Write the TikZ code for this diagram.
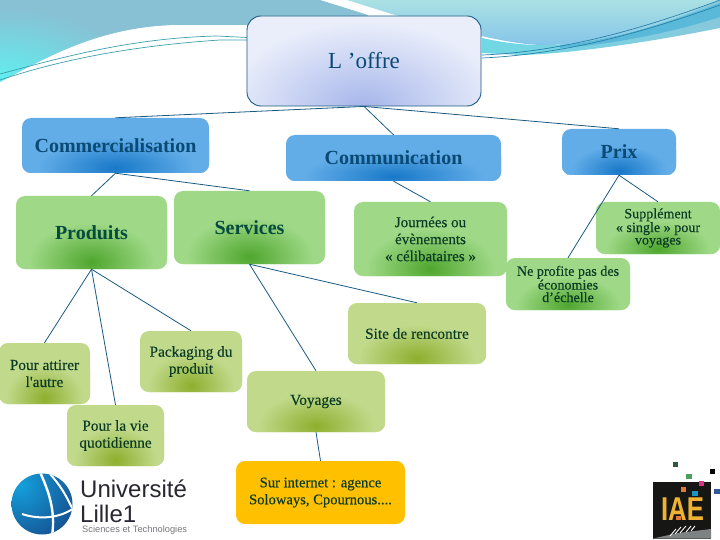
\documentclass[tikz,border=0pt]{standalone}
\usepackage{fontspec}
\usepackage{graphicx}
\setmainfont{Liberation Serif}
\newfontfamily\logosans{Liberation Sans}
\newfontfamily\medserif[FakeBold=0.25]{Liberation Serif}
\usetikzlibrary{calc}
\definecolor{linec}{HTML}{1A5A80}
\definecolor{bluetx}{HTML}{0A4A74}
\definecolor{greentx}{HTML}{064A40}
\definecolor{darktx}{HTML}{0A3A24}
\definecolor{B62ADE8}{HTML}{62ADE8}
\definecolor{B1878C8}{HTML}{1878C8}
\definecolor{G9FD987}{HTML}{9FD987}
\definecolor{G4FA62E}{HTML}{4FA62E}
\definecolor{OC0D98A}{HTML}{C0D98A}
\definecolor{O8DAF2E}{HTML}{8DAF2E}
\definecolor{LAV}{HTML}{EAEEFB}
\definecolor{LAVD}{HTML}{A6B6EA}
\definecolor{skyA}{HTML}{88C0D4}
\definecolor{skyB}{HTML}{60F0F0}
\definecolor{skyC}{HTML}{AAE1E4}
\definecolor{skyD}{HTML}{84C4E8}
\definecolor{bandA}{HTML}{70D8E4}
\definecolor{bandB}{HTML}{5AB8D8}
\definecolor{bandC}{HTML}{88C8DC}
\definecolor{thinA}{HTML}{2882AA}
\definecolor{thinB}{HTML}{3CA0AF}
\definecolor{ballA}{HTML}{14A0DC}
\definecolor{ballB}{HTML}{164687}
\definecolor{logotx}{HTML}{282832}
\definecolor{logogr}{HTML}{78787D}
\definecolor{iaebk}{HTML}{161614}
\definecolor{iaegr}{HTML}{7D8282}
\definecolor{iaeor}{HTML}{F0B232}
\definecolor{sqdg}{HTML}{2D5A3C}
\definecolor{sqg}{HTML}{4BA05F}
\definecolor{sqp}{HTML}{DC328C}
\definecolor{sqn}{HTML}{325A96}
\definecolor{sqo}{HTML}{E1783C}
\definecolor{sqc}{HTML}{1996C3}
\definecolor{amber}{HTML}{FFC000}
\pgfdeclareradialshading{glowblue}{\pgfpoint{0bp}{0bp}}{color(0bp)=(B1878C8); color(15bp)=(B62ADE8); color(50bp)=(B62ADE8)}
\pgfdeclareradialshading{glowgreen}{\pgfpoint{0bp}{0bp}}{color(0bp)=(G4FA62E); color(15bp)=(G9FD987); color(50bp)=(G9FD987)}
\pgfdeclareradialshading{glowolive}{\pgfpoint{0bp}{0bp}}{color(0bp)=(O8DAF2E); color(15bp)=(OC0D98A); color(50bp)=(OC0D98A)}
\pgfdeclareradialshading{glowlav}{\pgfpoint{0bp}{0bp}}{color(0bp)=(LAVD); color(15bp)=(LAV); color(50bp)=(LAV)}
\pgfdeclareradialshading{glowsky}{\pgfpoint{0bp}{0bp}}{color(0bp)=(skyB); color(15bp)=(skyA); color(50bp)=(skyA)}
\tikzset{
  x=1pt,y=-1pt,
  glowbox/.style n args={2}{rounded corners=9pt,inner sep=0pt,align=center,fill=#1,
    path picture={
      \shade[shading=#2]
        let \p1=($(path picture bounding box.east)-(path picture bounding box.west)$),
            \p2=($(path picture bounding box.north)-(path picture bounding box.south)$)
        in (path picture bounding box.south) ellipse [x radius={0.7*\x1},y radius={0.8*\y2}];
    }},
  bluebox/.style={glowbox={B62ADE8}{glowblue},text=bluetx,font=\fontsize{20}{22}\selectfont\bfseries},
  greenbox/.style={glowbox={G9FD987}{glowgreen},text=greentx,font=\fontsize{20}{22}\selectfont\bfseries},
  smallgreen/.style={glowbox={G9FD987}{glowgreen},text=darktx,font=\medserif\fontsize{15}{17}\selectfont},
  tightgreen/.style={glowbox={G9FD987}{glowgreen},text=darktx,font=\medserif\fontsize{14.1}{12.5}\selectfont},
  olivebox/.style={glowbox={OC0D98A}{glowolive},text=darktx,font=\medserif\fontsize{15.3}{17}\selectfont},
  linkline/.style={draw=linec,line width=0.8pt},
  thinband/.style={line width=0.7pt},
}
\begin{document}
\begin{tikzpicture}
\useasboundingbox (0,0) rectangle (720,540);
% background swooshes
\fill[white] (0,0) rectangle (720,540);
\begin{scope}
\clip (0,0) -- (320,0) -- (368,15) -- (368,25) -- (247,25) -- (170,25) .. controls (100,28) and (50,55) .. (0,82) -- cycle;
\fill[skyA] (0,0) rectangle (368,82);
\shade[shading=glowsky] (0,82) ellipse [x radius=230pt,y radius=125pt];
\end{scope}
\shade[top color=skyC,bottom color=skyD]
  (347,0) -- (720,0) .. controls (660,25) and (600,46) .. (540,45) .. controls (520,44) and (500,42) .. (395,15) -- cycle;
\fill[white] (482,37) -- (503,42) -- (482,39) -- cycle;
\shade[left color=bandA,right color=bandC]
  (482,38) .. controls (500,42) and (520,45) .. (540,45) .. controls (600,46) and (660,25) .. (720,0) -- (720,28) .. controls (650,42) and (570,54) .. (520,55) -- (482,53) -- cycle;
\fill[bandB] (560,45) .. controls (620,40) and (680,18) .. (720,3) -- (720,17) .. controls (680,30) and (620,44) .. (560,48) -- cycle;
\draw[thinA,thinband] (482,55) .. controls (560,52) and (640,30) .. (720,0);
\draw[thinA,thinband] (482,58) .. controls (570,54) and (650,30) .. (720,5);
\draw[thinB,thinband] (0,74) .. controls (60,58) and (130,38) .. (217,36) -- (247,37.5);
\draw[thinB,thinband] (0,80) .. controls (60,60) and (130,46) .. (220,40) -- (247,40);
% Lille logo
\fill[white] (0,458) rectangle (200,540);
\begin{scope}
\clip (42,504) circle (30.5);
\shade[inner color=ballA,outer color=ballB] (20,485) circle (70);
\draw[white,line width=2.4pt] (40,472) .. controls (48,490) and (56,510) .. (52,536);
\draw[white,line width=2pt] (50,474) .. controls (60,485) and (66,495) .. (72,508);
\draw[white,line width=2pt] (22,514) .. controls (40,520) and (60,518) .. (74,508);
\end{scope}
\node[anchor=west,inner sep=0pt,text=logotx,font=\logosans\fontsize{24}{26}\selectfont] (univ) at (80,489) {Université};
\node[anchor=west,inner sep=0pt,text=logotx,font=\logosans\fontsize{24}{26}\selectfont] (lille) at (80,513.5) {Lille1};
\node[anchor=west,inner sep=0pt,text=logogr,font=\logosans\fontsize{9.3}{10}\selectfont] (scitech) at (82,530) {Sciences et Technologies};
% IAE logo
\fill[iaebk] (653,482) rectangle (711,538.5);
\fill[iaegr] (653,538.5) -- (678,533) -- (711,529) -- (711,538.5) -- cycle;
\draw[white,line width=0.9pt] (670,536) -- (676,529) (675,534) -- (681,527) (680,533) -- (686,526) (686,532) -- (691,526) (691,531) -- (695,526);
\fill[sqdg] (673,462) rectangle (678,466.5);
\fill[sqg] (686,474) rectangle (692,479);
\fill[black] (710,469) rectangle (715,474);
\fill[sqp] (699,481) rectangle (704,486);
\fill[sqn] (714,489) rectangle (719.5,494);
\fill[sqo] (681,487) rectangle (686,492);
\fill[sqc] (692,491) rectangle (698,496);
\node[inner sep=0pt,text=iaeor,font=\logosans\bfseries\fontsize{33}{33}\selectfont] (iae) at (682.5,509.5) {\scalebox{0.78}[1]{IAE}};
\fill[sqo] (676,516) rectangle (681,520);
% nodes
\node[rounded corners=14pt,draw=linec,line width=0.9pt,fill=LAV,inner sep=0pt,minimum width=234pt,minimum height=90pt,
  text=bluetx,font=\fontsize{23}{28}\selectfont,
  path picture={\shade[shading=glowlav] (path picture bounding box.south) ellipse [x radius=230pt,y radius=140pt];}]
  (root) at (364,61) {L ’offre};
\node[bluebox,minimum width=187pt,minimum height=55pt] (comm) at (115.5,145.5) {Commercialisation};
\node[bluebox,minimum width=215pt,minimum height=46pt] (comn) at (393.5,158) {Communication};
\node[bluebox,minimum width=114pt,minimum height=46pt] (prix) at (619,152) {Prix};
\node[greenbox,minimum width=151pt,minimum height=73pt] (prod) at (91.5,232.5) {Produits};
\node[greenbox,minimum width=151pt,minimum height=73pt] (serv) at (249.5,227.5) {Services};
\node[smallgreen,minimum width=153pt,minimum height=74pt] (jour) at (430.5,239) {Journées ou\\évènements\\« célibataires »};
\node[tightgreen,minimum width=124pt,minimum height=52pt] (supp) at (658,228) {Supplément\\« single » pour\\voyages};
\node[tightgreen,minimum width=124pt,minimum height=52pt] (nepr) at (568,284) {Ne profite pas des\\économies\\d’échelle};
\node[olivebox,minimum width=138pt,minimum height=61pt] (site) at (417,333.5) {Site de rencontre};
\node[olivebox,minimum width=102pt,minimum height=61pt] (pack) at (191,361.5) {Packaging du\\produit};
\node[olivebox,minimum width=91pt,minimum height=61pt] (attr) at (44.5,373.5) {Pour attirer\\l'autre};
\node[olivebox,minimum width=97pt,minimum height=61pt] (quot) at (115.5,435.5) {Pour la vie\\quotidienne};
\node[olivebox,minimum width=138pt,minimum height=61pt] (voya) at (316,401.5) {Voyages};
\node[rounded corners=9pt,inner sep=0pt,align=center,fill=amber,text=darktx,font=\medserif\fontsize{14.6}{17}\selectfont,
  minimum width=169pt,minimum height=63pt] (inet) at (320.5,492.5) {Sur internet : agence\\Soloways, Cpournous....};
% connectors
\draw[linkline] (root.south) -- (comm.north);
\draw[linkline] (root.south) -- (comn.north);
\draw[linkline] (root.south) -- (prix.north);
\draw[linkline] (comm.south) -- (prod.north);
\draw[linkline] (comm.south) -- (serv.north);
\draw[linkline] (comn.south) -- (jour.north);
\draw[linkline] (prix.south) -- (supp.north);
\draw[linkline] (prix.south) -- (nepr.north);
\draw[linkline] (prod.south) -- (attr.north);
\draw[linkline] (prod.south) -- (quot.north);
\draw[linkline] (prod.south) -- (pack.north);
\draw[linkline] (serv.south) -- (site.north);
\draw[linkline] (serv.south) -- (voya.north);
\draw[linkline] (voya.south) -- (inet.north);
\end{tikzpicture}
\end{document}
